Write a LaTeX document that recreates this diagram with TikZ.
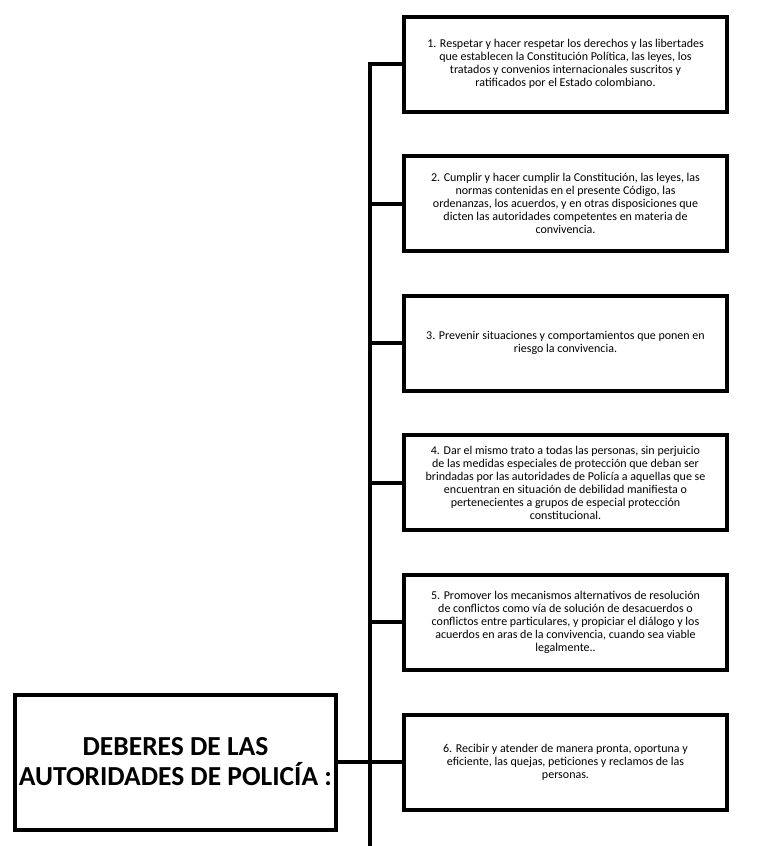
\documentclass[tikz,border=0pt]{standalone}
\usepackage{fontspec}
\setmainfont{Carlito}
\tikzset{
  deber/.style={draw, line width=4pt, minimum width=323pt, minimum height=95pt, inner sep=1pt, align=center, font=\fontsize{12}{13}\selectfont},
  titulo/.style={draw, line width=4pt, minimum width=321pt, minimum height=135pt, inner sep=1pt, align=center, font=\fontsize{27.5}{30}\selectfont\bfseries},
  rama/.style={line width=4pt}
}
\begin{document}
\begin{tikzpicture}[x=1pt, y=-1pt]
    \useasboundingbox (0,0) rectangle (760,846);

    \node[titulo] (deberes) at (175.5,762) {DEBERES DE LAS\\AUTORIDADES DE POLICÍA :};

    \node[deber] (d1) at (565.5,64) {1. Respetar y hacer respetar los derechos y las libertades\\que establecen la Constitución Política, las leyes, los\\tratados y convenios internacionales suscritos y\\ratificados por el Estado colombiano.};
    \node[deber] (d2) at (565.5,203.5) {2. Cumplir y hacer cumplir la Constitución, las leyes, las\\normas contenidas en el presente Código, las\\ordenanzas, los acuerdos, y en otras disposiciones que\\dicten las autoridades competentes en materia de\\convivencia.};
    \node[deber] (d3) at (565.5,343) {3. Prevenir situaciones y comportamientos que ponen en\\riesgo la convivencia.};
    \node[deber] (d4) at (565.5,482.5) {4. Dar el mismo trato a todas las personas, sin perjuicio\\de las medidas especiales de protección que deban ser\\brindadas por las autoridades de Policía a aquellas que se\\encuentran en situación de debilidad manifiesta o\\pertenecientes a grupos de especial protección\\constitucional.};
    \node[deber] (d5) at (565.5,622) {5. Promover los mecanismos alternativos de resolución\\de conflictos como vía de solución de desacuerdos o\\conflictos entre particulares, y propiciar el diálogo y los\\acuerdos en aras de la convivencia, cuando sea viable\\legalmente..};
    \node[deber] (d6) at (565.5,762) {6. Recibir y atender de manera pronta, oportuna y\\eficiente, las quejas, peticiones y reclamos de las\\personas.};

    \coordinate (tronco) at (370,846);

    \draw[rama] (tronco) -- (d1.west -| tronco) -- (d1.west);
    \draw[rama] (d2.west -| tronco) -- (d2.west);
    \draw[rama] (d3.west -| tronco) -- (d3.west);
    \draw[rama] (d4.west -| tronco) -- (d4.west);
    \draw[rama] (d5.west -| tronco) -- (d5.west);
    \draw[rama] (deberes.east) -- (d6.west);
\end{tikzpicture}
\end{document}
